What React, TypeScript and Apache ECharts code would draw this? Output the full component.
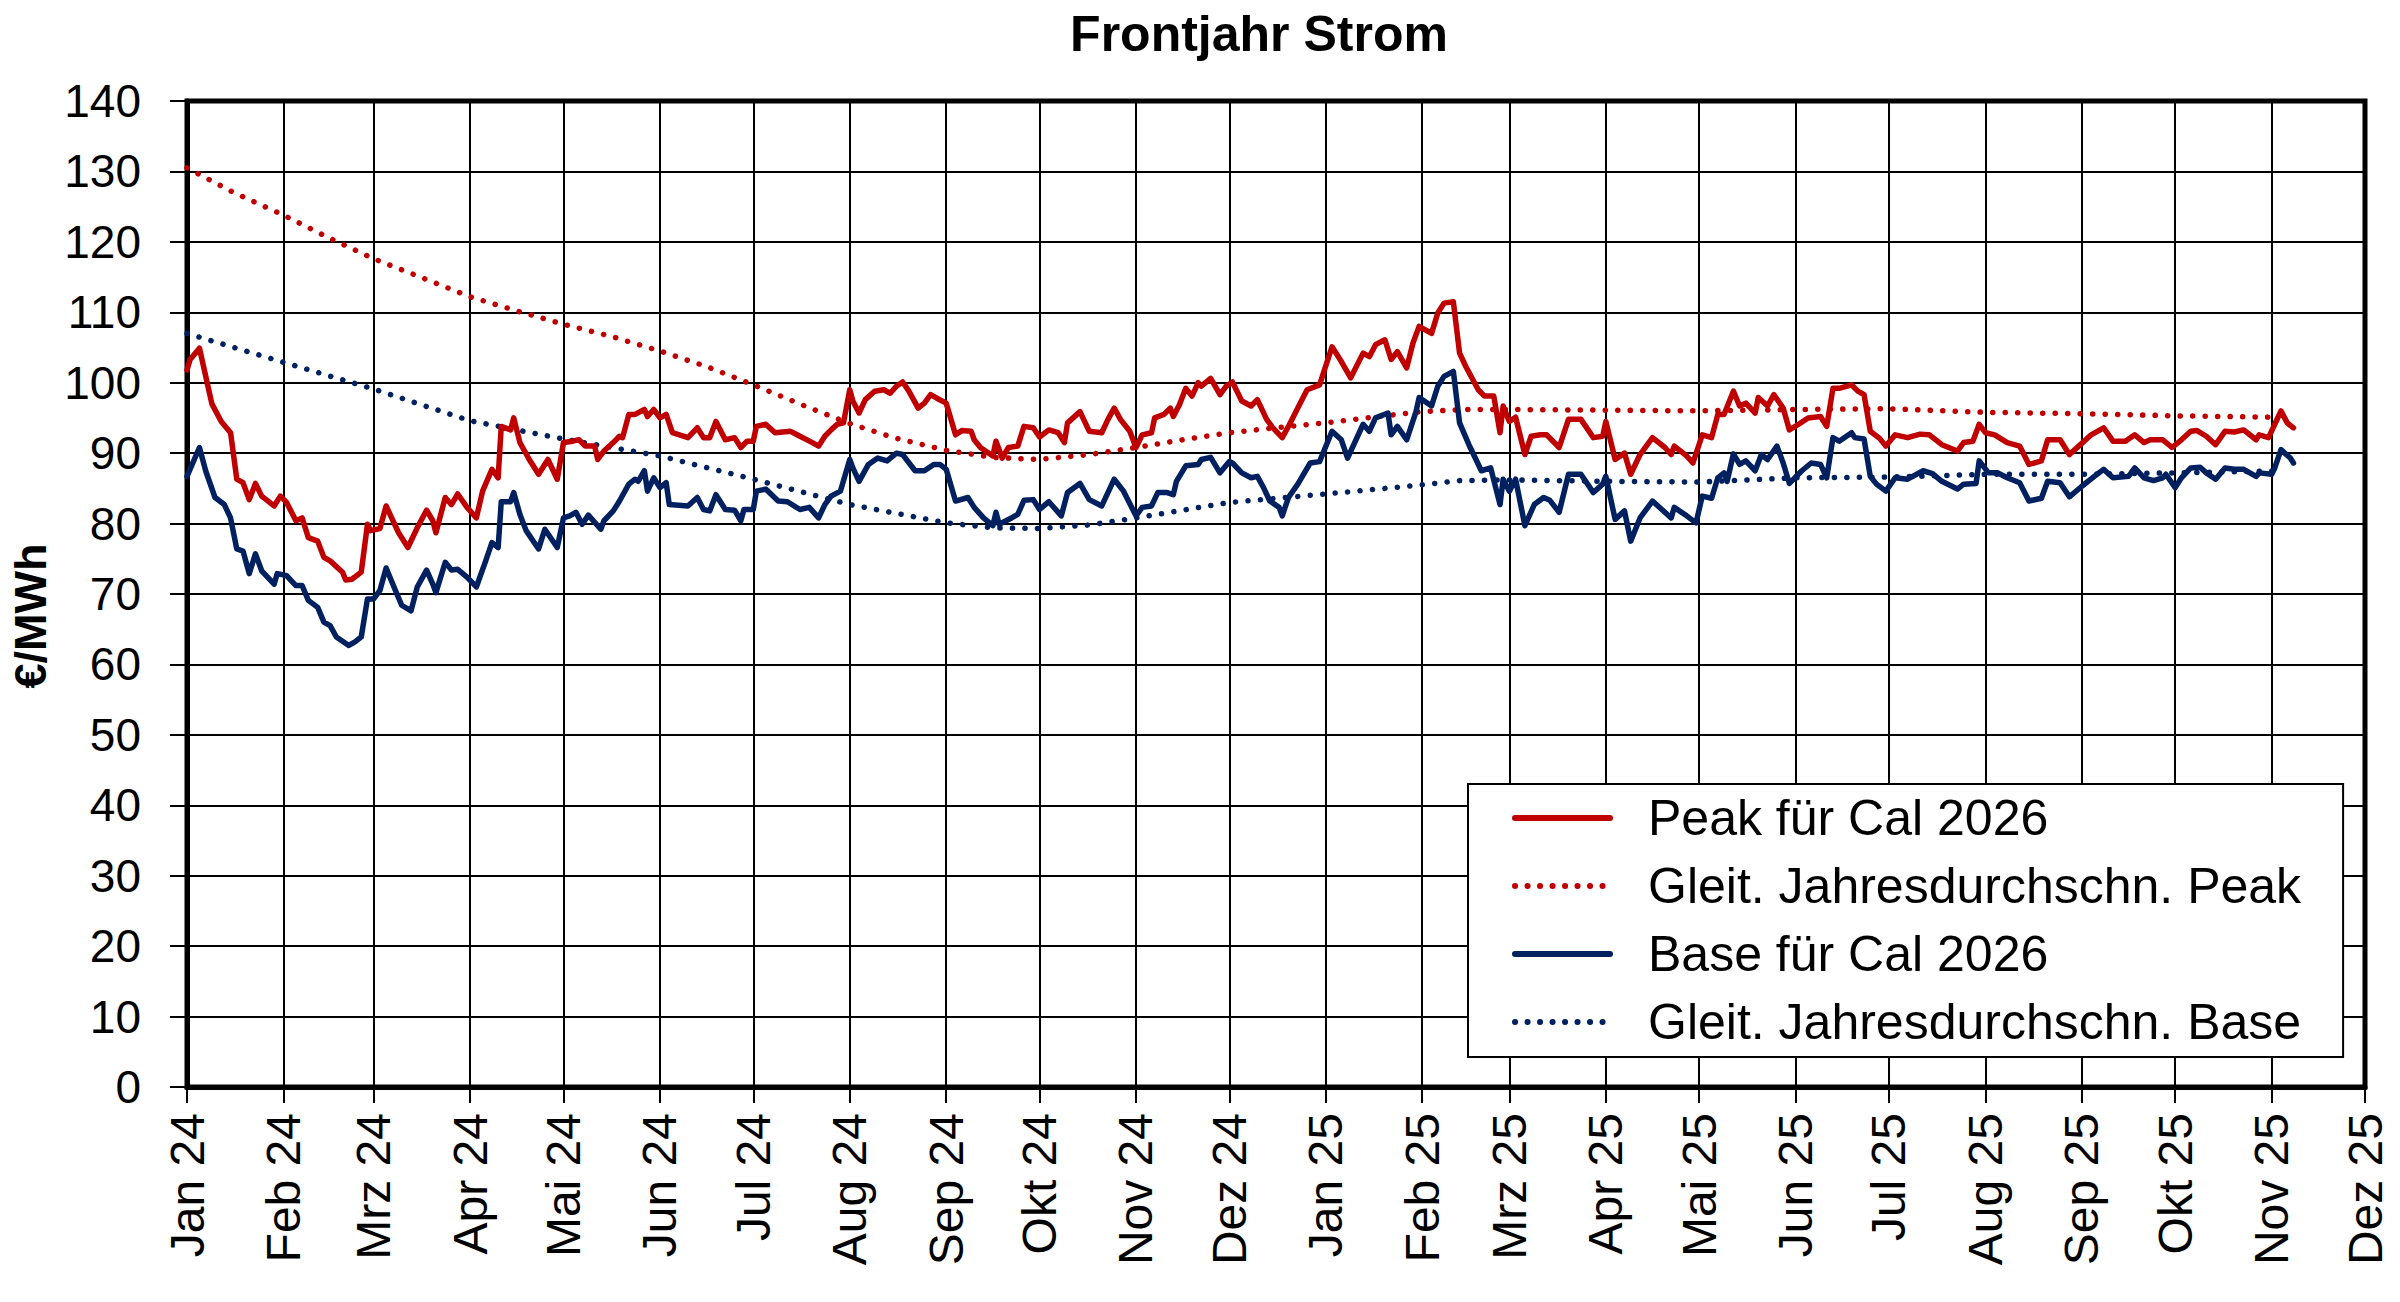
import React, { useEffect, useRef } from "react";
import * as echarts from "echarts";

const TITLE = "Frontjahr Strom";
const Y_NAME = "€/MWh";
const MONTHS = ["Jan", "Feb", "Mrz", "Apr", "Mai", "Jun", "Jul", "Aug", "Sep", "Okt", "Nov", "Dez"];
const START_UTC = Date.UTC(2024, 0, 1);
const TOTAL_DAYS = 700; // 2024-01-01 .. 2025-12-01
const Y_MIN = 0;
const Y_MAX = 140;
const Y_STEP = 10;

const SERIES_NAMES = [
  "Peak für Cal 2026",
  "Gleit. Jahresdurchschn. Peak",
  "Base für Cal 2026",
  "Gleit. Jahresdurchschn. Base",
];

// [day offset from 2024-01-01, €/MWh]
const peak: [number, number][] = [
  [0,101.8],[1,103.3],[4,104.9],[8,97],[11,94.5],[14,92.9],[16,86.3],[18,85.8],[20,83.4],[22,85.7],[24,83.9],[28,82.5],[30,83.9],[32,83],[35,80.4],[37,80.8],[39,78],[42,77.5],[44,75.2],[46,74.7],[50,73.1],[51,72],[53,72.1],[56,73.1],[58,79.9],[59,79],[62,79.3],[64,82.5],[68,78.7],[71,76.6],[74,79.4],[77,81.9],[79,80.4],[80,78.7],[83,83.7],[85,82.7],[87,84.2],[90,82.3],[93,80.8],[95,84.6],[98,87.7],[100,86.5],[101,93.8],[104,93.3],[105,95],[107,91.5],[110,89.1],[113,87],[116,89.1],[119,86.3],[121,91.5],[124,91.7],[126,91.9],[128,91],[131,91],[132,89.1],[134,90.3],[137,91.5],[139,92.4],
  [140,92.2],[142,95.5],[144,95.5],[147,96.2],[148,95.2],[150,96.2],[152,95],[154,95.5],[156,92.9],[161,92.2],[164,93.6],[166,92.2],[168,92.2],[170,94.5],[173,91.9],[176,92.2],[178,90.8],[180,91.7],[182,91.7],[183,93.8],[186,94.1],[189,92.9],[194,93.1],[197,92.4],[201,91.5],[203,91],[205,92.4],[207,93.3],[209,94.1],[211,94.3],[213,99],[214,97.4],[216,95.7],[218,97.6],[221,98.8],[224,99],[226,98.5],[228,99.5],[230,100.1],[232,98.8],[235,96.4],[237,97.1],[239,98.3],[241,97.8],[244,97.1],[247,92.6],[249,93.2],[252,93.1],[253,91.9],[255,90.8],[259,89.6],[260,91.7],[262,89.3],[264,90.8],[267,91],[269,93.8],[272,93.6],
  [274,92.3],[277,93.3],[280,92.9],[282,91.5],[283,94.3],[287,95.9],[290,93.1],[294,92.9],[296,94.8],[298,96.4],[300,94.8],[303,93.1],[305,90.8],[307,92.6],[310,92.9],[311,95],[314,95.5],[316,96.4],[317,95.2],[319,96.9],[321,99.2],[323,98.1],[325,100],[326,99.5],[329,100.6],[332,98.3],[334,99.5],[336,100.1],[339,97.4],[342,96.7],[344,97.6],[347,94.8],[349,93.6],[352,92.2],[354,93.8],[357,96.4],[360,99],[364,99.7],[368,105.1],[371,103],[374,100.7],[378,104.2],[380,103.7],[382,105.4],[385,106.1],[387,103.3],[389,104.4],[392,102.1],[394,105.6],[396,108],[400,107],[402,109.9],[404,111.3],[407,111.5],
  [409,104.2],[411,102.3],[415,99],[417,98.1],[420,98.1],[422,92.9],[423,96.7],[425,94.5],[427,95.1],[430,89.8],[432,92.4],[435,92.6],[437,92.6],[441,90.8],[444,94.8],[448,94.8],[452,92.2],[455,92.4],[456,94.5],[459,89.1],[462,90],[464,87],[467,89.8],[471,92.2],[475,90.8],[477,89.8],[478,91],[482,89.6],[484,88.6],[487,92.6],[490,92.2],[492,95.5],[494,95.5],[497,98.8],[499,96.7],[501,97.1],[504,95.7],[505,97.9],[508,96.7],[510,98.3],[513,96.4],[515,93.3],[518,94.1],[521,95],[525,95.2],[527,93.8],[529,99.2],[531,99.2],[535,99.7],[537,98.8],[539,98.3],
  [541,93.1],[544,92.1],[546,91],[549,92.6],[553,92.2],[557,92.7],[560,92.6],[564,91.2],[569,90.3],[571,91.5],[574,91.7],[576,94.1],[578,92.9],[581,92.6],[585,91.5],[589,91],[592,88.4],[596,88.9],[598,91.9],[602,91.9],[605,89.8],[608,91],[612,92.6],[616,93.6],[619,91.7],[623,91.7],[626,92.6],[629,91.5],[631,91.9],[635,91.9],[638,90.8],[641,91.9],[644,93.1],[646,93.2],[649,92.4],[652,91.2],[655,93.1],[658,93],[661,93.3],[665,91.9],[666,92.6],[669,92.2],[671,94.1],[673,96],[675,94.3],[677,93.6],
];

const base: [number, number][] = [
  [0,86.7],[4,90.8],[6,87.5],[9,83.7],[12,82.7],[14,80.8],[16,76.4],[18,76.1],[20,72.9],[22,75.7],[24,73.3],[28,71.4],[29,72.9],[32,72.6],[35,71.2],[37,71.2],[39,69.1],[42,68.1],[44,66],[46,65.5],[48,63.9],[52,62.7],[54,63.2],[56,63.9],[58,69.3],[60,69.3],[62,70.5],[64,73.7],[67,70.5],[69,68.4],[72,67.6],[74,71],[77,73.4],[79,71.4],[80,70.2],[83,74.5],[85,73.4],[87,73.5],[90,72.4],[93,71],[96,74.7],[98,77.3],[100,76.6],[101,83.1],[104,83.1],[105,84.4],[107,81.3],[109,79],[113,76.4],[115,79.2],[119,76.6],[121,80.8],[123,81.1],[125,81.6],[127,79.9],[129,81.2],[133,79.2],[134,80.4],[137,81.8],[139,83.2],
  [142,85.6],[144,86.3],[145,86],[147,87.5],[148,84.6],[150,86.5],[152,85.1],[154,85.8],[155,82.7],[161,82.5],[164,83.7],[166,82],[168,81.8],[170,84.1],[173,82],[176,81.9],[178,80.4],[179,82],[182,82],[183,84.6],[186,84.9],[190,83.2],[193,83.1],[197,82],[200,82.3],[203,80.8],[205,82.7],[207,83.9],[210,84.6],[213,89.1],[214,87.9],[216,86],[219,88.4],[222,89.3],[225,88.9],[228,90],[230,89.8],[234,87.5],[237,87.5],[240,88.4],[242,88.4],[244,87.7],[247,83.2],[251,83.7],[253,82.3],[256,80.8],[259,79.7],[260,81.6],[261,79.9],[265,80.8],[267,81.3],[269,83.3],[272,83.4],
  [274,82],[277,83.1],[281,81.1],[283,84.4],[287,85.7],[290,83.4],[294,82.5],[298,86.3],[301,84.6],[305,81.1],[307,82.3],[310,82.5],[312,84.4],[315,84.4],[317,84.1],[318,86],[321,88.2],[325,88.4],[326,89.1],[329,89.4],[332,87.2],[335,88.8],[336,88.6],[339,87.2],[342,86.5],[344,86.7],[346,85.1],[348,83.2],[351,82.3],[352,81.1],[354,83.7],[357,85.6],[361,88.6],[364,88.8],[368,93.1],[371,91.9],[373,89.3],[378,94.1],[380,93.1],[382,95],[386,95.7],[387,92.6],[389,93.8],[392,91.9],[395,95.9],[396,97.9],[400,96.7],[402,99.5],[404,100.9],[407,101.6],
  [409,94.3],[412,91.2],[416,87.5],[419,87.9],[422,82.7],[423,86.3],[425,84.6],[427,86.3],[430,79.7],[433,82.7],[436,83.7],[438,83.3],[441,81.6],[444,87],[448,87],[452,84.4],[455,85.6],[456,86.7],[459,80.6],[462,81.8],[464,77.5],[467,80.8],[471,83.2],[475,81.6],[477,80.8],[478,82.3],[482,81.1],[485,80.1],[487,83.9],[490,83.6],[492,86.5],[494,87.2],[495,86],[497,89.9],[499,88.4],[501,88.9],[504,87.5],[506,89.8],[508,89.1],[511,91],[513,88.6],[515,85.7],[519,87.5],[522,88.6],[525,88.4],[527,86.5],[529,92.2],[531,91.7],[535,92.9],[536,92.2],[539,92],
  [541,86.7],[543,85.6],[546,84.6],[549,86.5],[553,86.3],[558,87.5],[561,87.1],[564,86],[569,84.9],[571,85.6],[575,85.7],[576,88.9],[579,87.2],[582,87.2],[585,86.5],[589,85.8],[592,83.2],[596,83.6],[598,86],[602,85.8],[605,83.8],[609,85.3],[613,86.7],[616,87.7],[619,86.5],[624,86.7],[626,87.9],[629,86.5],[632,86.1],[635,86.5],[636,87],[639,85.1],[641,86.5],[644,87.9],[647,88],[649,87.2],[652,86.3],[655,87.9],[658,87.7],[661,87.7],[665,86.7],[666,87.2],[670,87],[671,87.9],[673,90.5],[676,89.3],[677,88.6],
];

const peakAvg: [number, number][] = [
  [0,130.5],[15,127],[31,123.8],[45,120.7],[60,117.6],[75,115],[91,112.2],[106,110.2],[121,108.3],[137,106.5],[152,104.5],[167,102.3],[182,99.7],[198,96.8],[213,94.2],[228,92.1],[244,90.4],[259,89.4],[274,89.1],[290,89.8],[305,90.8],[320,91.9],[335,92.9],[350,93.6],[366,94.3],[381,95.1],[397,95.9],[411,96.2],[425,96.2],[456,96.1],[486,96],[517,96.2],[547,96.3],[578,95.8],[609,95.6],[639,95.3],[671,95.1],
];

const baseAvg: [number, number][] = [
  [0,107],[31,102.9],[60,99.1],[91,94.6],[121,92],[152,89.6],[182,86.3],[213,82.7],[244,80.1],[259,79.4],[274,79.3],[290,79.8],[305,80.8],[335,83],[366,84.2],[397,85.5],[409,86.1],[425,86.2],[456,86],[486,85.9],[517,86.5],[547,86.6],[578,87],[609,87],[639,87.2],[673,87.5],
];

const RED = "#C00000";
const BLUE = "#002060";
const FONT = "Liberation Sans, Arial, sans-serif";

function dayCategories(): string[] {
  const out: string[] = [];
  for (let i = 0; i <= TOTAL_DAYS; i++) {
    const d = new Date(START_UTC + i * 86400000);
    const m = String(d.getUTCMonth() + 1).padStart(2, "0");
    const dd = String(d.getUTCDate()).padStart(2, "0");
    out.push(`${d.getUTCFullYear()}-${m}-${dd}`);
  }
  return out;
}

const isMonthStart = (_i: number, v: string) => typeof v === "string" && v.endsWith("-01");

export default function App() {
  const ref = useRef<HTMLDivElement>(null);

  useEffect(() => {
    if (!ref.current) return;
    const chart = echarts.init(ref.current, undefined, { renderer: "svg" });
    const cats = dayCategories();

    const solid = (color: string) => ({ color, width: 5.5, type: "solid" as const, cap: "round" as const, join: "round" as const });
    const dotted = (color: string) => ({ color, width: 5.5, type: [0.1, 12.4] as any, cap: "round" as const });

    chart.setOption({
      animation: false,
      backgroundColor: "#fff",
      textStyle: { fontFamily: FONT },
      title: {
        text: TITLE,
        left: 1254,
        top: 4,
        textAlign: "center",
        textStyle: { fontFamily: FONT, fontSize: 50, fontWeight: "bold", color: "#000" },
      },
      grid: {
        left: 187,
        right: 35,
        top: 101,
        bottom: 215,
        containLabel: false,
        show: true,
        borderColor: "#000",
        borderWidth: 5,
        backgroundColor: "transparent",
      },
      legend: {
        orient: "vertical",
        left: 1468,
        top: 784,
        padding: [9, 42, 10, 44],
        itemWidth: 95,
        itemHeight: 14,
        itemGap: 18,
        backgroundColor: "#fff",
        borderColor: "#000",
        borderWidth: 2,
        borderRadius: 0,
        data: SERIES_NAMES,
        itemStyle: { color: "transparent", borderWidth: 0, borderColor: "transparent" },
        lineStyle: { width: 6 },
        textStyle: { fontFamily: FONT, fontSize: 50, color: "#000", padding: [0, 0, 0, 33] },
      },
      xAxis: {
        type: "category",
        data: cats,
        boundaryGap: false,
        axisLine: { show: true, lineStyle: { color: "#000", width: 5 } },
        axisTick: { show: true, interval: isMonthStart, length: 16, lineStyle: { color: "#000", width: 2 } },
        splitLine: { show: true, interval: isMonthStart, lineStyle: { color: "#000", width: 2 } },
        axisLabel: {
          interval: isMonthStart,
          rotate: 90,
          margin: 26,
          fontFamily: FONT,
          fontSize: 48,
          color: "#000",
          formatter: (v: string) => `${MONTHS[Number(v.slice(5, 7)) - 1]} ${v.slice(2, 4)}`,
        },
      },
      yAxis: {
        type: "value",
        min: Y_MIN,
        max: Y_MAX,
        interval: Y_STEP,
        name: Y_NAME,
        nameLocation: "middle",
        nameRotate: 90,
        nameGap: 130,
        nameTextStyle: { fontFamily: FONT, fontSize: 45, fontWeight: "bold", color: "#000", padding: [0, 44, 0, 0] },
        axisLine: { show: true, lineStyle: { color: "#000", width: 5 } },
        axisTick: { show: true, length: 17, lineStyle: { color: "#000", width: 2 } },
        splitLine: { show: true, lineStyle: { color: "#000", width: 2 } },
        axisLabel: { margin: 46, fontFamily: FONT, fontSize: 46, color: "#000" },
      },
      series: [
        { name: SERIES_NAMES[1], type: "line", data: peakAvg, symbol: "none", lineStyle: dotted(RED), itemStyle: { color: RED }, z: 2 },
        { name: SERIES_NAMES[3], type: "line", data: baseAvg, symbol: "none", lineStyle: dotted(BLUE), itemStyle: { color: BLUE }, z: 2 },
        { name: SERIES_NAMES[0], type: "line", data: peak, symbol: "none", lineStyle: solid(RED), itemStyle: { color: RED }, z: 3 },
        { name: SERIES_NAMES[2], type: "line", data: base, symbol: "none", lineStyle: solid(BLUE), itemStyle: { color: BLUE }, z: 3 },
      ],
    });

    return () => chart.dispose();
  }, []);

  return (
    <div
      ref={ref}
      style={{ position: "fixed", left: 0, top: 0, width: 2400, height: 1302, background: "#fff" }}
    />
  );
}
